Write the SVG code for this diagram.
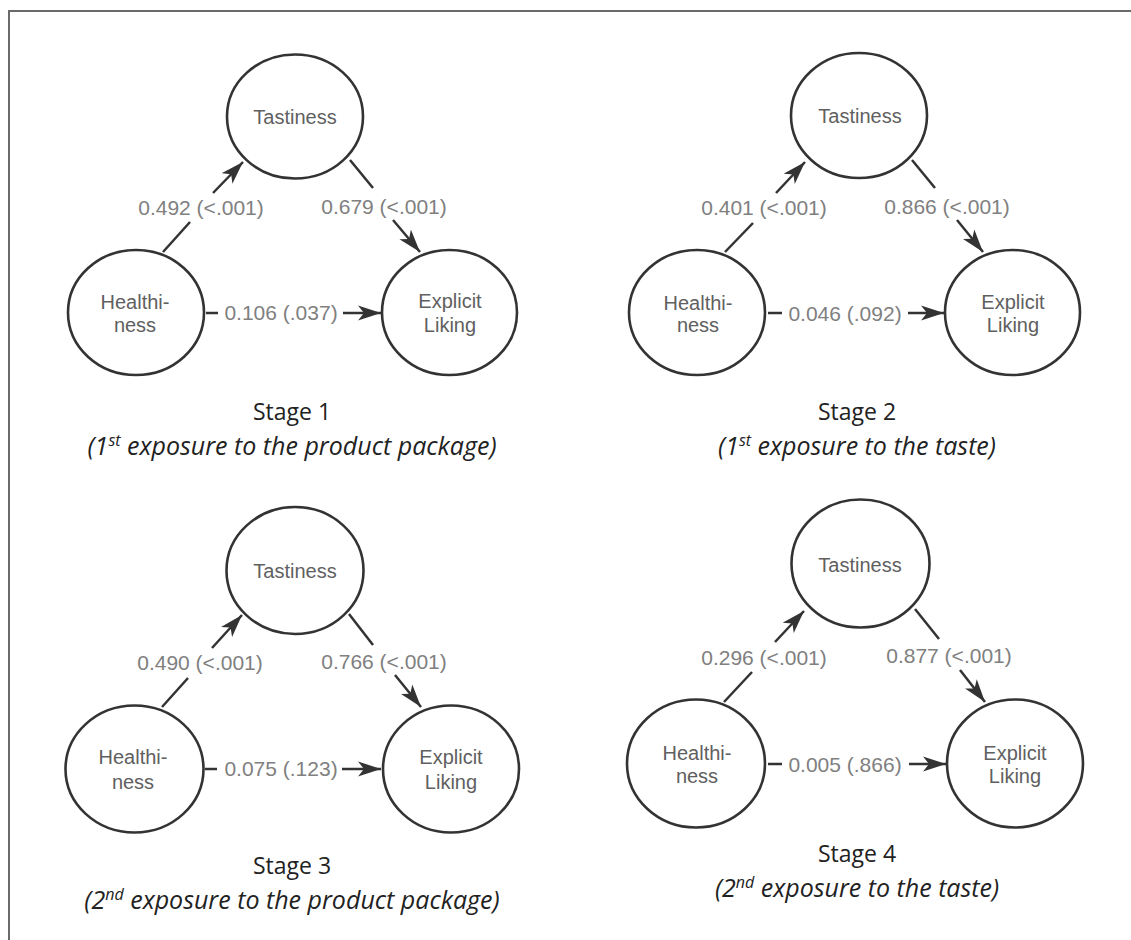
<svg xmlns="http://www.w3.org/2000/svg" width="1131" height="940" viewBox="0 0 1131 940">
<style>
.node{fill:#fff;stroke:#333;stroke-width:2.6}
.nl{font-family:"Liberation Sans",Arial,sans-serif;font-size:20px;fill:#606060;text-anchor:middle}
.el{font-family:"Liberation Sans",Arial,sans-serif;font-size:21px;fill:#808080;text-anchor:middle}
.edge{stroke:#333;stroke-width:2.5;fill:none}
.arr{marker-end:url(#ah)}
.cap{font-family:"Open Sans",sans-serif;font-size:23px;fill:#222;text-anchor:middle}
.capi{font-family:"Open Sans",sans-serif;font-size:25px;fill:#222;text-anchor:middle;font-style:italic}
.frame{stroke:#6a6a6a;stroke-width:2;fill:none}
</style>
<defs>
<marker id="ah" markerUnits="userSpaceOnUse" markerWidth="24" markerHeight="16" refX="23" refY="8" orient="auto" viewBox="0 0 24 16">
<path d="M0,0.5 L23,8 L0,15.5 L6,8 Z" fill="#333"/>
</marker>
</defs>
<rect width="1131" height="940" fill="#fff"/>
<path class="frame" d="M9,940 L9,11 L1131,11"/>

<g id="connectors">
<!-- Panel 1 -->
<line class="edge" x1="163" y1="252" x2="190" y2="222"/>
<line class="edge arr" x1="213" y1="193" x2="243" y2="162"/>
<line class="edge" x1="350" y1="160" x2="373" y2="188"/>
<line class="edge arr" x1="393" y1="220" x2="420" y2="252"/>
<line class="edge" x1="206" y1="313" x2="218" y2="313"/>
<line class="edge arr" x1="343" y1="313" x2="381" y2="313"/>
<!-- Panel 2 -->
<line class="edge" x1="725" y1="252" x2="753" y2="223"/>
<line class="edge arr" x1="776" y1="193" x2="805" y2="162"/>
<line class="edge" x1="912" y1="160" x2="935" y2="188"/>
<line class="edge arr" x1="957" y1="220" x2="983" y2="252"/>
<line class="edge" x1="768" y1="313" x2="782" y2="313"/>
<line class="edge arr" x1="908" y1="313" x2="944" y2="313"/>
<!-- Panel 3 -->
<line class="edge" x1="162" y1="707" x2="188" y2="678"/>
<line class="edge arr" x1="212" y1="648" x2="242" y2="615"/>
<line class="edge" x1="349" y1="614" x2="373" y2="645"/>
<line class="edge arr" x1="395" y1="675" x2="421" y2="707"/>
<line class="edge" x1="205" y1="769" x2="217" y2="769"/>
<line class="edge arr" x1="342" y1="769" x2="381" y2="769"/>
<!-- Panel 4 -->
<line class="edge" x1="724" y1="702" x2="752" y2="672"/>
<line class="edge arr" x1="775" y1="642" x2="804" y2="611"/>
<line class="edge" x1="915" y1="609" x2="939" y2="639"/>
<line class="edge arr" x1="960" y1="670" x2="985" y2="702"/>
<line class="edge" x1="768" y1="764" x2="782" y2="764"/>
<line class="edge arr" x1="909" y1="764" x2="946" y2="764"/>
</g>

<g id="edge-labels">
<text class="el" x="201" y="215">0.492 (&lt;.001)</text>
<text class="el" x="384" y="214">0.679 (&lt;.001)</text>
<text class="el" x="281" y="320">0.106 (.037)</text>
<text class="el" x="764" y="215">0.401 (&lt;.001)</text>
<text class="el" x="947" y="214">0.866 (&lt;.001)</text>
<text class="el" x="845" y="321">0.046 (.092)</text>
<text class="el" x="200" y="670">0.490 (&lt;.001)</text>
<text class="el" x="384" y="669">0.766 (&lt;.001)</text>
<text class="el" x="281" y="776">0.075 (.123)</text>
<text class="el" x="764" y="665">0.296 (&lt;.001)</text>
<text class="el" x="949" y="663">0.877 (&lt;.001)</text>
<text class="el" x="845" y="772">0.005 (.866)</text>
</g>

<!-- Panel 1 nodes -->
<g id="p1-tastiness"><ellipse class="node" cx="295" cy="116.5" rx="68" ry="62"/><text class="nl" x="295" y="124">Tastiness</text></g>
<g id="p1-healthiness"><ellipse class="node" cx="136" cy="312.5" rx="68" ry="62.5"/><text class="nl" x="135" y="309">Healthi-</text><text class="nl" x="135" y="332">ness</text></g>
<g id="p1-liking"><ellipse class="node" cx="449.5" cy="312.5" rx="67.5" ry="62.5"/><text class="nl" x="450" y="308">Explicit</text><text class="nl" x="450" y="332">Liking</text></g>
<g id="p1-caption"><text class="cap" x="292" y="420">Stage 1</text><text class="capi" x="292" y="455">(1<tspan font-size="16" dy="-9">st</tspan><tspan dy="9"> exposure to the product package)</tspan></text></g>

<!-- Panel 2 nodes -->
<g id="p2-tastiness"><ellipse class="node" cx="859" cy="115.5" rx="68" ry="62.5"/><text class="nl" x="860" y="123">Tastiness</text></g>
<g id="p2-healthiness"><ellipse class="node" cx="697" cy="312.5" rx="68" ry="62.5"/><text class="nl" x="698" y="310">Healthi-</text><text class="nl" x="698" y="332">ness</text></g>
<g id="p2-liking"><ellipse class="node" cx="1012.5" cy="312.5" rx="67.5" ry="62.5"/><text class="nl" x="1013" y="309">Explicit</text><text class="nl" x="1013" y="332">Liking</text></g>
<g id="p2-caption"><text class="cap" x="857" y="420">Stage 2</text><text class="capi" x="857" y="455">(1<tspan font-size="16" dy="-9">st</tspan><tspan dy="9"> exposure to the taste)</tspan></text></g>

<!-- Panel 3 nodes -->
<g id="p3-tastiness"><ellipse class="node" cx="295" cy="570.5" rx="68.5" ry="63.5"/><text class="nl" x="295" y="578">Tastiness</text></g>
<g id="p3-healthiness"><ellipse class="node" cx="134.5" cy="769" rx="69" ry="63.5"/><text class="nl" x="133" y="764">Healthi-</text><text class="nl" x="133" y="789">ness</text></g>
<g id="p3-liking"><ellipse class="node" cx="451" cy="769" rx="68" ry="63.5"/><text class="nl" x="451" y="764">Explicit</text><text class="nl" x="451" y="789">Liking</text></g>
<g id="p3-caption"><text class="cap" x="292" y="874">Stage 3</text><text class="capi" x="292" y="909">(2<tspan font-size="16" dy="-9">nd</tspan><tspan dy="9"> exposure to the product package)</tspan></text></g>

<!-- Panel 4 nodes -->
<g id="p4-tastiness"><ellipse class="node" cx="860.5" cy="563.5" rx="69" ry="64"/><text class="nl" x="860" y="572">Tastiness</text></g>
<g id="p4-healthiness"><ellipse class="node" cx="696" cy="763.5" rx="69" ry="64"/><text class="nl" x="697" y="760">Healthi-</text><text class="nl" x="697" y="783">ness</text></g>
<g id="p4-liking"><ellipse class="node" cx="1015" cy="763.5" rx="68" ry="64"/><text class="nl" x="1015" y="760">Explicit</text><text class="nl" x="1015" y="783">Liking</text></g>
<g id="p4-caption"><text class="cap" x="857" y="862">Stage 4</text><text class="capi" x="857" y="897">(2<tspan font-size="16" dy="-9">nd</tspan><tspan dy="9"> exposure to the taste)</tspan></text></g>
</svg>
